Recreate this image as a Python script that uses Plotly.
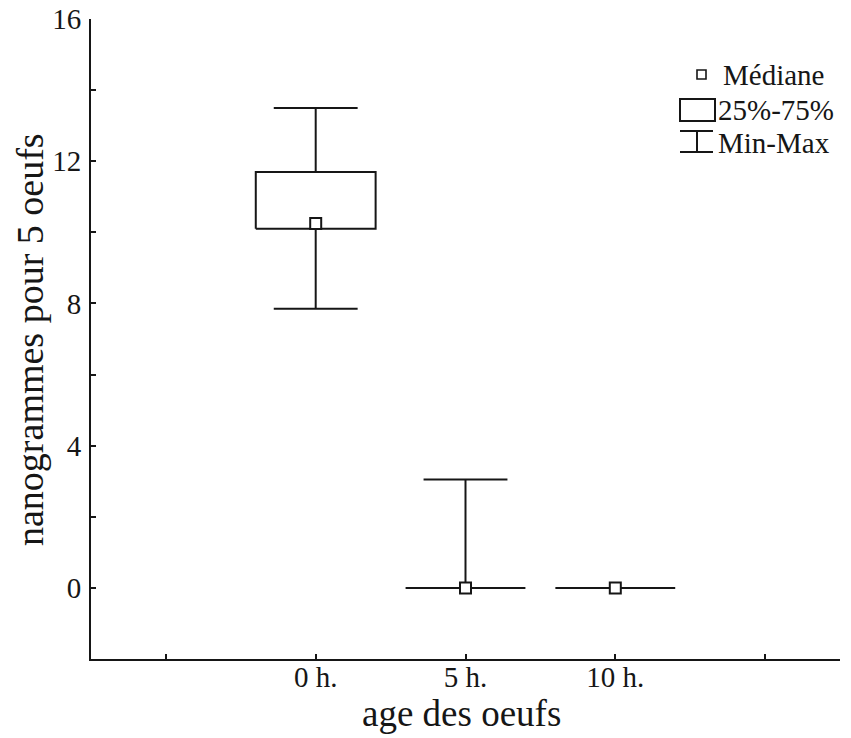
import plotly.graph_objects as go

# ---- data ----
categories = ["0 h.", "5 h.", "10 h."]
minimum = [7.85, 0.0, 0.0]
q1 = [10.1, 0.0, 0.0]
median = [10.25, 0.0, 0.0]
q3 = [11.7, 0.0, 0.0]
maximum = [13.5, 3.05, 0.0]
y_ticks = [0, 4, 8, 12, 16]
legend_labels = ["Médiane", "25%-75%", "Min-Max"]
x_title = "age des oeufs"
y_title = "nanogrammes pour 5 oeufs"

# ---- style ----
INK = "#161616"
FONT = "Liberation Serif"
BOX_HALF = 0.40
CAP_HALF = 0.28
LW = 2

positions = list(range(len(categories)))

fig = go.Figure()

for p, lo, a, m, b, hi in zip(positions, minimum, q1, median, q3, maximum):
    # box
    fig.add_trace(go.Scatter(
        x=[p - BOX_HALF, p + BOX_HALF, p + BOX_HALF, p - BOX_HALF, p - BOX_HALF],
        y=[a, a, b, b, a], mode="lines",
        line=dict(color=INK, width=LW), showlegend=False, hoverinfo="skip"))
    # upper whisker + cap
    if hi > b:
        fig.add_trace(go.Scatter(
            x=[p, p, None, p - CAP_HALF, p + CAP_HALF],
            y=[b, hi, None, hi, hi], mode="lines",
            line=dict(color=INK, width=LW), showlegend=False, hoverinfo="skip"))
    # lower whisker + cap
    if lo < a:
        fig.add_trace(go.Scatter(
            x=[p, p, None, p - CAP_HALF, p + CAP_HALF],
            y=[a, lo, None, lo, lo], mode="lines",
            line=dict(color=INK, width=LW), showlegend=False, hoverinfo="skip"))

# medians
fig.add_trace(go.Scatter(
    x=positions, y=median, mode="markers",
    marker=dict(symbol="square", size=11, color="white", line=dict(color=INK, width=2)),
    showlegend=False, hoverinfo="skip"))

# ---- manual legend (pixel -> paper) ----
PL, PR, PT, PB = 91, 840, 19, 659
def px(x):
    return (x - PL) / (PR - PL)
def py(y):
    return (PB - y) / (PB - PT)

shapes = []
# median symbol
shapes.append(dict(type="rect", xref="paper", yref="paper",
                   x0=px(697), x1=px(706), y0=py(70), y1=py(79),
                   line=dict(color=INK, width=1.6), fillcolor="white"))
# box symbol
shapes.append(dict(type="rect", xref="paper", yref="paper",
                   x0=px(680), x1=px(715), y0=py(99), y1=py(121),
                   line=dict(color=INK, width=LW)))
# whisker symbol
for (xa, ya, xb, yb) in [(680, 131, 713, 131), (697, 131, 697, 152), (680, 152, 713, 152)]:
    shapes.append(dict(type="line", xref="paper", yref="paper",
                       x0=px(xa), x1=px(xb), y0=py(ya), y1=py(yb),
                       line=dict(color=INK, width=LW)))

annotations = []
for lab, yy, xx in zip(legend_labels, [75, 110, 143], [721, 716, 716]):
    annotations.append(dict(text=lab, xref="paper", yref="paper", x=px(xx), y=py(yy),
                            xanchor="left", yanchor="middle", showarrow=False,
                            font=dict(family=FONT, size=29, color=INK)))

# axis titles as annotations for precise placement
annotations.append(dict(text=x_title, xref="paper", yref="paper", x=px(461), y=py(713),
                        xanchor="center", yanchor="middle", showarrow=False,
                        font=dict(family=FONT, size=37, color=INK)))
annotations.append(dict(text=y_title, xref="paper", yref="paper", x=px(30), y=py(340),
                        xanchor="center", yanchor="middle", showarrow=False, textangle=-90,
                        font=dict(family=FONT, size=38, color=INK)))

fig.update_layout(
    width=851, height=738,
    margin=dict(l=PL, r=851 - PR, t=PT, b=738 - PB),
    paper_bgcolor="white", plot_bgcolor="white",
    font=dict(family=FONT, color=INK),
    shapes=shapes, annotations=annotations,
    showlegend=False,
)

fig.update_xaxes(
    range=[-1.5, 3.5],
    tickmode="array",
    tickvals=[-1] + positions + [len(categories)],
    ticktext=[""] + categories + [""],
    ticks="inside", ticklen=5, tickwidth=2, tickcolor=INK,
    showline=True, linecolor=INK, linewidth=2,
    showgrid=False, zeroline=False,
    tickfont=dict(family=FONT, size=29, color=INK),
    ticklabelstandoff=-9,
    automargin=False,
)

fig.update_yaxes(
    range=[-2, 16],
    tickmode="array", tickvals=y_ticks,
    ticks="inside", ticklen=5, tickwidth=2, tickcolor=INK,
    minor=dict(ticks="inside", ticklen=5, tickwidth=2, tickcolor=INK, dtick=2, tick0=0),
    showline=True, linecolor=INK, linewidth=2,
    showgrid=False, zeroline=False,
    tickfont=dict(family=FONT, size=29, color=INK),
    ticklabelstandoff=2,
    automargin=False,
)

fig.write_html("out.html")
